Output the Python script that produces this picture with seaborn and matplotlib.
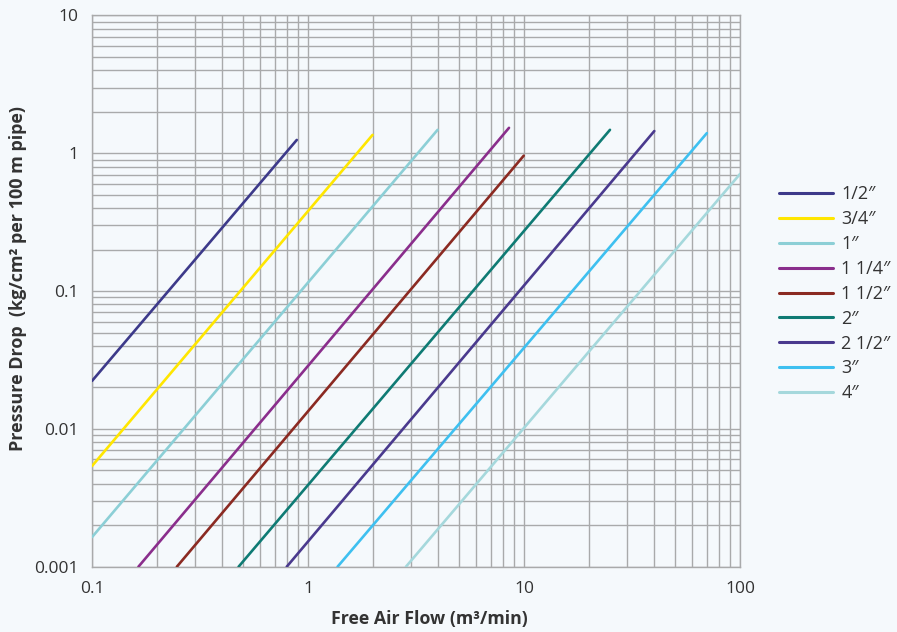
import numpy as np
import pandas as pd
import matplotlib
matplotlib.use("Agg")
import matplotlib.pyplot as plt
import matplotlib.ticker as mticker
import seaborn as sns

# ── Data: end points of each pipe-size line (log-log straight lines) ─────────
sizes   = ["1/2\u2033", "3/4\u2033", "1\u2033", "1 1/4\u2033", "1 1/2\u2033",
           "2\u2033", "2 1/2\u2033", "3\u2033", "4\u2033"]
flow_lo = [0.1,    0.1,     0.1,     0.164, 0.247, 0.477, 0.797, 1.37, 2.84]
flow_hi = [0.887,  1.99,    3.98,    8.52,  9.97,  25.0,  40.1,  70.2, 100.0]
drop_lo = [0.0223, 0.00538, 0.00164, 0.001, 0.001, 0.001, 0.001, 0.001, 0.001]
drop_hi = [1.25,   1.36,    1.48,    1.53,  0.961, 1.48,  1.45,  1.40, 0.708]

COLORS = ["#3d3a8a", "#ffe600", "#8ccfd6", "#8a2e8c", "#8b2a22",
          "#0f7b74", "#4a3a8e", "#3ec0f0", "#a5d8dc"]

x_ticks = [0.1, 1, 10, 100]
x_tick_labels = ["0.1", "1", "10", "100"]
y_ticks = [0.001, 0.01, 0.1, 1, 10]
y_tick_labels = ["0.001", "0.01", "0.1", "1", "10"]

BG = "#f5f9fc"
GRID = "#a9aaab"

sns.set_style("white")
plt.rcParams["font.family"] = ["Open Sans", "DejaVu Sans"]

rows = []
for name, x0, x1, y0, y1 in zip(sizes, flow_lo, flow_hi, drop_lo, drop_hi):
    rows.append({"size": name, "flow": x0, "drop": y0})
    rows.append({"size": name, "flow": x1, "drop": y1})
df = pd.DataFrame(rows)

fig = plt.figure(figsize=(8.97, 6.32), dpi=100, facecolor=BG)
ax = fig.add_axes([0.1026, 0.1033, 0.7224, 0.8722])
ax.set_facecolor(BG)

ax.set_xscale("log")
ax.set_yscale("log")

sns.lineplot(data=df, x="flow", y="drop", hue="size", hue_order=sizes,
             palette=COLORS, linewidth=1.9, sort=False, estimator=None,
             ax=ax, zorder=3)

ax.set_xlim(0.1, 100)
ax.set_ylim(0.001, 10)

# grid – major and minor, both same grey
ax.xaxis.set_minor_locator(mticker.LogLocator(base=10, subs=np.arange(2, 10)))
ax.yaxis.set_minor_locator(mticker.LogLocator(base=10, subs=np.arange(2, 10)))
ax.grid(True, which="both", color=GRID, linewidth=1.0)
ax.set_axisbelow(True)

ax.set_xticks(x_ticks)
ax.set_xticklabels(x_tick_labels)
ax.set_yticks(y_ticks)
ax.set_yticklabels(y_tick_labels)
ax.xaxis.set_minor_formatter(mticker.NullFormatter())
ax.yaxis.set_minor_formatter(mticker.NullFormatter())
ax.tick_params(axis="both", which="major", labelsize=12.5, labelcolor="#333333",
               color=GRID, length=5, width=1.0, direction="out", pad=5)
ax.tick_params(axis="both", which="minor", length=0)

for side in ["left", "bottom", "top", "right"]:
    ax.spines[side].set_color(GRID)
    ax.spines[side].set_linewidth(1.0)

ax.set_xlabel("Free Air Flow (m\u00b3/min)", fontsize=12.8, fontweight="bold",
              color="#333333")
ax.set_ylabel("Pressure Drop  (kg/cm\u00b2 per 100 m pipe)", fontsize=13,
              fontweight="bold", color="#333333")
ax.xaxis.set_label_coords(0.521, -0.078)
ax.yaxis.set_label_coords(-0.1, 0.522)

leg = ax.legend(loc="center left", bbox_to_anchor=(1.035, 0.495), frameon=False,
                fontsize=13, handlelength=3.0, handletextpad=0.45,
                labelspacing=0.38)
for line in leg.get_lines():
    line.set_linewidth(2.2)
for t in leg.get_texts():
    t.set_color("#333333")

fig.savefig("out.png", dpi=100, facecolor=BG)
